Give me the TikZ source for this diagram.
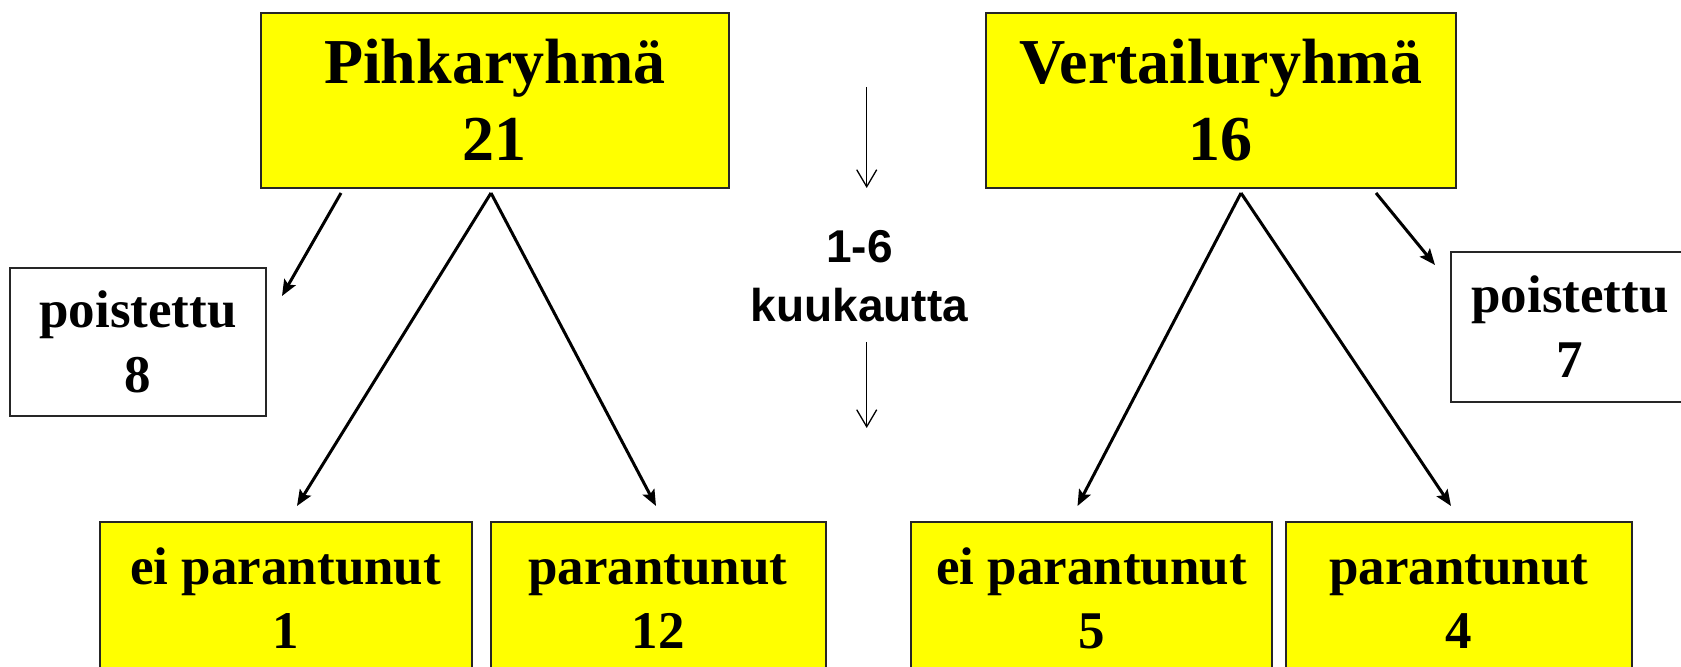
\documentclass[tikz,border=0pt]{standalone}
\usepackage{fontspec}
\setmainfont{Liberation Serif}
\newfontfamily\labelsans{Liberation Sans}
\usetikzlibrary{arrows.meta}
\definecolor{boxyellow}{HTML}{FFFF00}
\tikzset{
  box/.style={draw=black!85, line width=1pt, rectangle, inner sep=0pt, align=center},
  groupbox/.style={box, fill=boxyellow, font=\fontsize{32}{38.5}\selectfont\bfseries},
  outbox/.style={box, fill=white, font=\fontsize{26.5}{32.5}\selectfont\bfseries},
  resultbox/.style={box, fill=boxyellow, font=\fontsize{26.5}{32}\selectfont\bfseries},
  flow/.style={line width=1.5pt, -{Stealth[length=8pt, width=6.5pt, inset=1.5pt]}},
  timeline/.style={line width=0.65pt, -{Straight Barb[length=8.5pt, width=10pt]}},
  periodlabel/.style={align=center, inner sep=0pt, font=\labelsans\fontsize{23}{29.5}\selectfont\bfseries}
}
% keeps the first line of every outcome box at the same height
\newcommand{\firstline}[1]{\vphantom{ei}#1}
\begin{document}
\begin{tikzpicture}[x=0.5pt, y=-0.5pt]
  \useasboundingbox (0,0) rectangle (1681,667);
  \clip (0,0) rectangle (1681,667);

  % group boxes
  \node[groupbox, minimum width=234.25pt, minimum height=87.35pt] (pihk) at (494.75,100.25) {Pihkaryhmä\\21};
  \node[groupbox, minimum width=234.75pt, minimum height=87.35pt] (vert) at (1220.75,100.25) {Vertailuryhmä\\16};

  % dropped-out counts
  \node[outbox, minimum width=128pt, minimum height=74pt] (pois8) at (138,342) {poistettu\\8};
  \node[outbox, minimum width=119pt, minimum height=75pt] (pois7) at (1570,327) {poistettu\\7};

  % outcome boxes
  \node[resultbox, minimum width=185.75pt, minimum height=76.5pt] (eip1) at (285.75,598.5) {\firstline{ei parantunut}\\1};
  \node[resultbox, minimum width=167.5pt, minimum height=76.5pt] (par12) at (658,598.5) {\firstline{parantunut}\\12};
  \node[resultbox, minimum width=180.5pt, minimum height=76.5pt] (eip5) at (1091.5,598.5) {\firstline{ei parantunut}\\5};
  \node[resultbox, minimum width=173pt, minimum height=76.5pt] (par4) at (1458.65,598.5) {\firstline{parantunut}\\4};

  % follow-up period
  \node[periodlabel] (period) at (859.5,276) {1-6\\kuukautta};
  \coordinate (timeA) at (866.7,87);
  \coordinate (timeB) at (866.7,188);
  \coordinate (timeC) at (866.7,342);
  \coordinate (timeD) at (866.7,428);
  \draw[timeline] (timeA) -- (timeB);
  \draw[timeline] (timeC) -- (timeD);

  % connector end points
  \coordinate (pihkOut) at (341,193);
  \coordinate (pihkApex) at (491,193);
  \coordinate (vertApex) at (1241,193);
  \coordinate (vertOut) at (1376,193);
  \coordinate (toPois8) at (282,296);
  \coordinate (toEip1) at (297,506);
  \coordinate (toPar12) at (656,506);
  \coordinate (toEip5) at (1077.5,506);
  \coordinate (toPar4) at (1451,506);
  \coordinate (toPois7) at (1435,265);

  \draw[flow] (pihkOut) -- (toPois8);
  \draw[flow] (pihkApex) -- (toEip1);
  \draw[flow] (pihkApex) -- (toPar12);
  \draw[flow] (vertApex) -- (toEip5);
  \draw[flow] (vertApex) -- (toPar4);
  \draw[flow] (vertOut) -- (toPois7);
\end{tikzpicture}
\end{document}
